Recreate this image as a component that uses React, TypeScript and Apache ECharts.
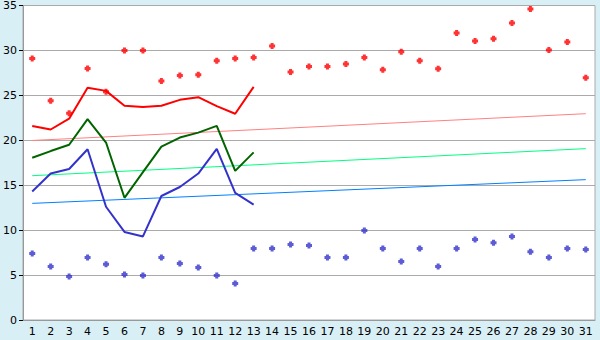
import React, { useEffect, useRef } from "react";
import * as echarts from "echarts";

const days = Array.from({ length: 31 }, (_, i) => String(i + 1));
const yTicks = { min: 0, max: 35, interval: 5 };

const maxPoints = [29.1, 24.4, 23.0, 28.0, 25.4, 30.0, 30.0, 26.6, 27.2, 27.3, 28.85, 29.1, 29.2, 30.5, 27.6,
  28.2, 28.2, 28.5, 29.2, 27.85, 29.85, 28.85, 27.95, 31.95, 31.05, 31.3, 33.05, 34.6, 30.05, 30.95, 26.95];
const minPoints = [7.4, 5.95, 4.85, 6.95, 6.2, 5.05, 4.95, 6.95, 6.3, 5.85, 4.95, 4.05, 7.95, 7.95, 8.4,
  8.3, 6.95, 6.95, 9.95, 7.95, 6.5, 7.95, 5.95, 7.95, 8.95, 8.6, 9.3, 7.6, 6.95, 7.95, 7.85];
const redLine = [21.6, 21.2, 22.4, 25.85, 25.5, 23.85, 23.7, 23.85, 24.5, 24.8, 23.8, 22.95, 25.95];
const greenLine = [18.05, 18.8, 19.5, 22.35, 19.75, 13.6, 16.45, 19.3, 20.3, 20.85, 21.6, 16.6, 18.65];
const blueLine = [14.3, 16.3, 16.8, 19.0, 12.6, 9.8, 9.3, 13.8, 14.8, 16.3, 19.05, 14.15, 12.85];
const trendRed = [19.98, 22.96];
const trendGreen = [16.06, 19.07];
const trendBlue = [12.98, 15.62];

const marker = "path://M1,0H3V1H4V3H3V4H1V3H0V1H1Z";

function trend(values: number[], color: string) {
  return {
    type: "line",
    data: [[0, values[0]], [days.length - 1, values[1]]],
    showSymbol: false,
    lineStyle: { color, width: 1 },
    z: 1,
  };
}

function mainLine(values: number[], color: string) {
  return {
    type: "line",
    data: values,
    showSymbol: false,
    lineStyle: { color, width: 2 },
    z: 3,
  };
}

function dots(values: number[], color: string) {
  return {
    type: "scatter",
    data: values,
    symbol: marker,
    symbolSize: 6,
    itemStyle: { color },
    z: 4,
  };
}

export default function App() {
  const ref = useRef<HTMLDivElement>(null);
  useEffect(() => {
    if (!ref.current) return;
    const chart = echarts.init(ref.current, undefined, { renderer: "svg" });
    const font = { fontFamily: "DejaVu Sans", fontSize: 11, color: "#000" };
    chart.setOption({
      animation: false,
      backgroundColor: "#d9eff6",
      grid: {
        left: 20, top: 5, right: 5, bottom: 20,
        show: true, backgroundColor: "#fff", borderColor: "#aaaaaa", borderWidth: 1,
      },
      xAxis: {
        type: "category",
        data: days,
        boundaryGap: true,
        axisLine: { lineStyle: { color: "#999999" } },
        axisTick: { alignWithLabel: true, length: 4, lineStyle: { color: "#000" } },
        axisLabel: { ...font, margin: 6, interval: 0 },
        splitLine: { show: false },
      },
      yAxis: {
        type: "value",
        ...yTicks,
        axisLine: { show: true, lineStyle: { color: "#999999" } },
        axisTick: { show: true, length: 4, lineStyle: { color: "#000" } },
        axisLabel: { ...font, margin: 6 },
        splitLine: { lineStyle: { color: "#aaaaaa", width: 1 } },
      },
      series: [
        trend(trendRed, "#ff8080"),
        trend(trendGreen, "#00ff80"),
        trend(trendBlue, "#0080ff"),
        mainLine(redLine, "#ff0000"),
        mainLine(greenLine, "#006400"),
        mainLine(blueLine, "#3333cc"),
        dots(maxPoints, "#ff0000"),
        dots(minPoints, "#3333cc"),
      ],
    });
    return () => chart.dispose();
  }, []);
  return <div ref={ref} style={{ position: "fixed", left: 0, top: 0, width: 600, height: 340 }} />;
}
